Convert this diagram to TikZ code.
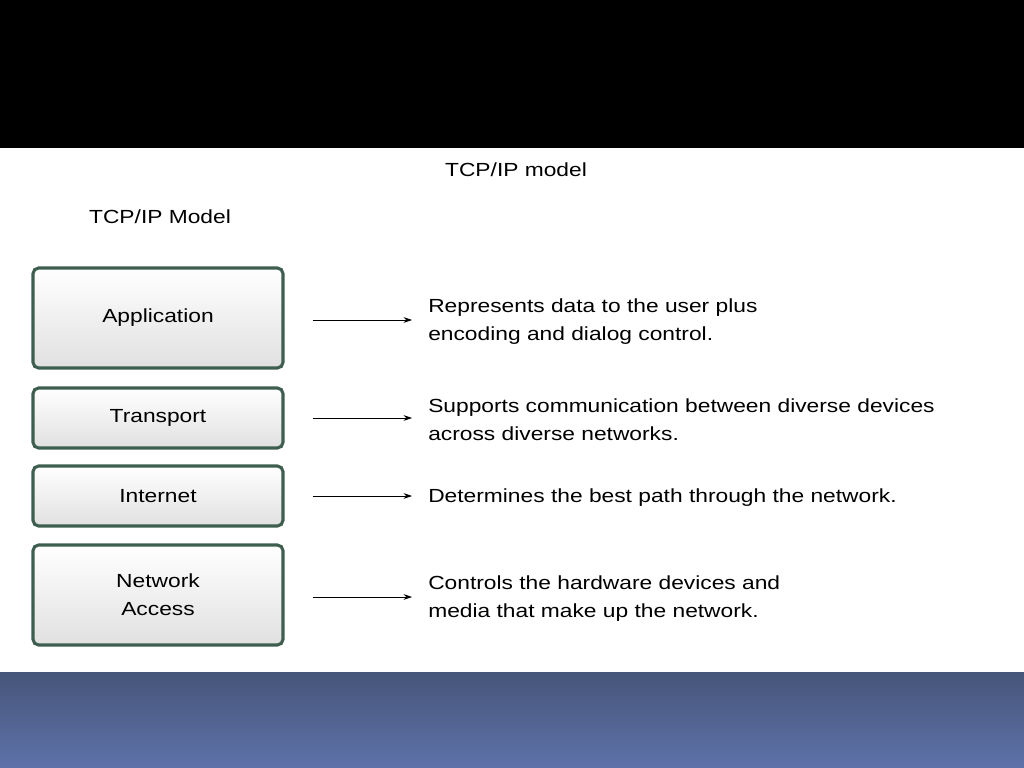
\documentclass[tikz,border=0pt]{standalone}
\usepackage{fontspec}
\setmainfont[FakeStretch=1.2]{Liberation Sans}
\usetikzlibrary{positioning,arrows.meta}
\definecolor{boxline}{HTML}{3E5E50}
\definecolor{bandtop}{HTML}{46557A}
\definecolor{bandbot}{HTML}{5E72AA}
\begin{document}
\begin{tikzpicture}[
                layer/.style={
                        rounded corners=4pt,
                        draw=boxline,
                        line width=2.2pt,
                        minimum width=6.25cm,
                        align=center,
                        top color=white,
                        bottom color=black!12,
                        font=\fontsize{13.5}{20}\selectfont
                    },
                desc/.style={
                        anchor=west,
                        align=left,
                        inner sep=0pt,
                        font=\fontsize{13.5}{20}\selectfont
                    },
                title/.style={font=\fontsize{13.5}{16}\selectfont},
                link/.style={-{Stealth[length=6pt,width=4pt]}, thin}
            ]

            % fond et bandes
            \useasboundingbox (0,0) rectangle (25.6,-19.2);
            \fill[black] (0,0) rectangle (25.6,-3.7);
            \shade[top color=bandtop, bottom color=bandbot] (0,-16.8) rectangle (25.6,-19.2);

            % titres
            \node[title] (titre) at (12.9,-4.25) {TCP/IP model};
            \node[title] (modele) at (4.0,-5.42) {TCP/IP Model};

            % couches
            \node[layer, minimum height=2.5cm] (app) at (3.95,-7.95) {Application};
            \node[layer, minimum height=1.5cm] (trans) at (3.95,-10.45) {Transport};
            \node[layer, minimum height=1.5cm] (inet) at (3.95,-12.4) {Internet};
            \node[layer, minimum height=2.5cm] (net) at (3.95,-14.875) {Network\\Access};

            % descriptions
            \node[desc] (dapp) at (10.7,-8.05) {Represents data to the user plus\\encoding and dialog control.};
            \node[desc] (dtrans) at (10.7,-10.5) {Supports communication between diverse devices\\across diverse networks.};
            \node[desc] (dinet) at (10.7,-12.45) {Determines the best path through the network.};
            \node[desc] (dnet) at (10.7,-14.975) {Controls the hardware devices and\\media that make up the network.};

            % flèches
            \draw[link] ([xshift=0.7cm]app.east |- 0,-8.0) -- ([xshift=-0.4cm]dapp.west |- 0,-8.0);
            \draw[link] ([xshift=0.7cm]trans.east) -- ([xshift=-0.4cm]dtrans.west |- trans.east);
            \draw[link] ([xshift=0.7cm]inet.east) -- ([xshift=-0.4cm]dinet.west |- inet.east);
            \draw[link] ([xshift=0.7cm]net.east |- 0,-14.925) -- ([xshift=-0.4cm]dnet.west |- 0,-14.925);

        \end{tikzpicture}
\end{document}
